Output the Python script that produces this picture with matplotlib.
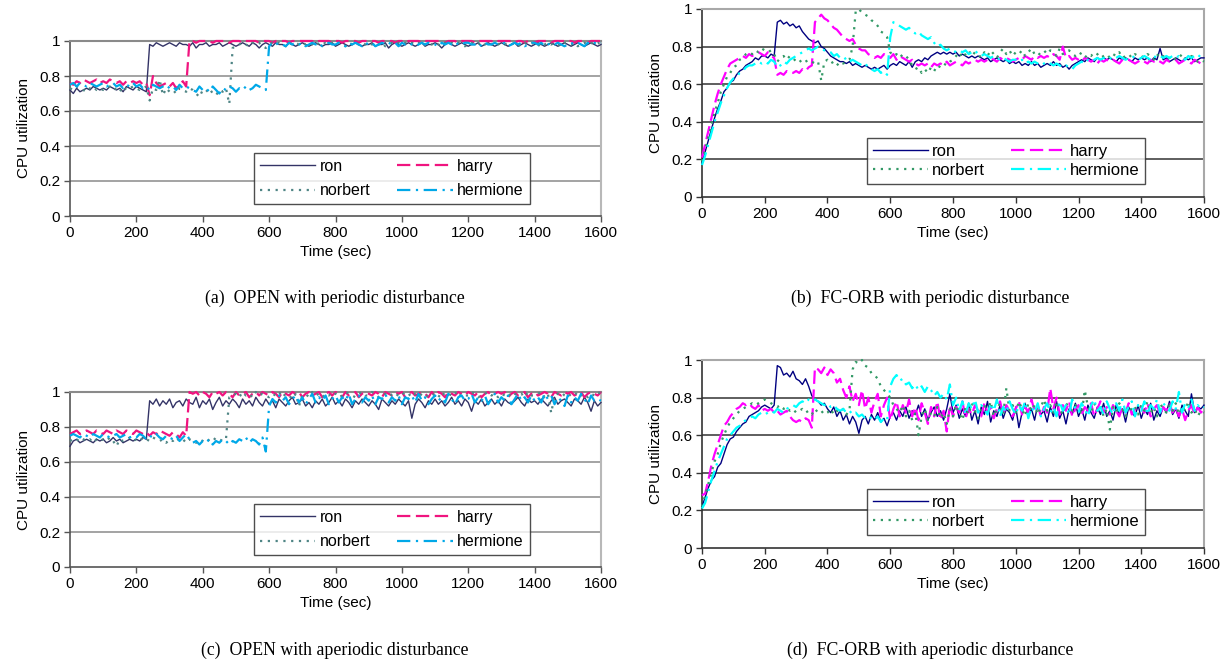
import matplotlib
matplotlib.use("Agg")
import matplotlib.pyplot as plt

plt.rcParams['font.family'] = ['Liberation Sans', 'DejaVu Sans']

# ---------------- data (CPU utilization in %, sampled every 10 s) ----------------
time_s = list(range(0, 1610, 10))
series_names = ["ron", "harry", "norbert", "hermione"]

# (a) OPEN with periodic disturbance
ron_a = [72,70,73,71,72,73,72,74,73,72, 73,72,74,73,72,73,71,74,73,72,
         74,73,72,71,98,97,99,98,97,98, 99,98,97,99,98,98,97,99,96,98,
         98,99,97,98,98,99,97,98,99,98, 97,98,99,98,97,99,98,96,98,99,
         98,97,99,98,98,97,99,98,97,98, 99,98,97,98,99,98,97,98,98,99,
         97,98,99,98,97,98,99,98,97,98, 98,99,97,98,98,99,96,98,99,98,
         97,98,99,98,97,98,99,97,98,98, 99,98,96,98,99,98,97,98,99,98,
         97,98,98,99,97,98,99,98,97,98, 99,98,97,98,99,97,98,99,98,97,
         98,99,98,97,98,99,98,97,98,99, 98,97,98,99,98,97,98,99,98,97, 98]
harry_a = [76,75,77,76,78,77,76,77,78,76, 77,76,78,77,76,77,75,77,76,77,
           76,77,75,76,69,80,76,74,75,76, 74,76,73,75,77,74,100,100,99,100,
           100,100,100,99,100,100,100,100,99,100, 100,100,99,100,100,100,100,99,100,100,
           100,99,100,100,100,100,99,100,100,100, 100,100,100,100,99,100,100,100,100,99,
           100,100,99,100,100,100,100,99,100,100, 100,100,100,99,100,100,100,100,99,100,
           100,99,100,100,100,100,99,100,100,100, 100,100,100,99,100,100,100,99,100,100,
           100,100,99,100,100,100,100,100,99,100, 100,100,100,100,99,100,100,99,100,100,
           99,100,100,100,100,99,100,100,100,100, 100,100,99,100,100,100,99,100,100,100, 100]
norbert_a = [73,72,74,73,72,71,73,74,72,73, 72,73,74,72,73,71,74,72,73,74,
             73,72,73,74,66,73,72,78,69,73, 71,72,70,73,72,71,73,72,70,68,
             72,71,73,70,69,72,71,73,64,96, 97,98,99,98,97,99,98,99,97,96,
             98,99,98,99,98,97,99,98,99,98, 99,98,99,98,97,99,98,99,98,99,
             98,99,98,97,99,98,99,98,99,98, 99,98,99,98,99,97,98,99,98,99,
             98,99,98,99,98,99,97,98,99,98, 99,98,97,99,98,99,98,99,98,97,
             98,99,98,99,97,98,99,98,99,98, 99,98,99,98,99,98,97,99,98,99,
             98,97,99,98,99,98,99,98,97,99, 99,98,99,97,98,99,98,99,98,99, 98]
hermione_a = [75,76,74,76,75,74,76,75,74,75, 76,74,75,76,74,75,73,75,74,76,
              74,75,73,74,72,75,74,73,74,75, 73,74,72,75,73,74,73,72,71,74,
              72,73,71,74,72,70,73,72,74,73, 71,73,72,74,72,73,75,74,73,72,
              97,99,98,99,98,97,99,98,99,98, 99,97,98,99,98,99,97,98,99,98,
              98,99,98,97,99,98,99,98,97,99, 98,99,97,98,99,98,99,98,99,97,
              99,98,99,98,97,98,99,98,99,98, 98,97,99,98,99,98,97,99,98,99,
              99,98,98,99,97,99,98,98,99,98, 98,99,97,98,99,98,99,97,98,99,
              99,98,99,97,98,99,98,99,98,97, 98,99,98,99,98,97,99,98,99,98, 99]

# (b) FC-ORB with periodic disturbance
ron_b = [18,24,30,36,42,47,51,56,58,61, 62,65,67,68,70,71,72,74,73,75,
         75,74,76,75,93,94,92,93,91,92, 90,91,88,86,84,83,82,83,80,79,
         77,75,74,73,72,72,71,72,70,71, 70,69,70,69,68,69,68,69,70,68,
         70,71,70,72,71,70,72,69,72,73, 72,74,73,75,76,77,76,77,76,77,
         76,77,75,76,75,74,75,74,75,74, 73,74,72,73,74,73,72,73,71,72,
         71,72,70,71,70,72,70,71,69,70, 71,70,72,70,71,69,70,68,70,71,
         72,73,72,74,73,72,74,73,74,73, 74,73,72,74,73,74,73,72,74,73,
         74,73,74,72,74,73,79,73,74,72, 73,74,73,72,74,73,74,72,73,74, 74]
harry_b = [21,28,35,42,49,55,60,64,68,71, 72,73,74,75,74,76,75,76,77,76,
           75,77,75,74,65,66,65,67,66,66, 67,66,68,67,69,70,93,95,97,95,
           94,92,90,89,87,85,84,83,84,81, 79,78,78,76,75,74,75,74,76,75,
           74,76,73,75,74,73,72,73,71,70, 71,70,71,69,71,70,71,70,72,70,
           71,72,71,70,72,71,72,73,72,73, 72,73,74,73,72,74,73,74,73,72,
           73,74,73,75,74,73,75,74,75,74, 75,74,76,75,73,80,74,75,73,74,
           73,72,74,73,72,73,71,73,72,73, 72,73,72,71,73,72,73,72,71,72,
           73,72,71,73,72,73,72,71,73,72, 72,73,71,72,73,72,71,73,72,71, 73]
norbert_b = [19,25,32,38,45,50,56,60,64,66, 69,70,73,74,76,77,76,78,77,79,
             78,77,78,76,72,74,75,73,75,74, 72,73,71,72,73,72,71,72,62,72,
             73,71,72,70,72,71,72,73,80,99, 100,98,97,96,94,93,91,88,87,85,
             77,75,76,74,76,75,73,70,68,69, 66,68,66,69,67,70,69,71,70,72,
             73,75,77,74,76,78,75,77,76,74, 77,75,78,76,74,77,79,76,78,75,
             77,76,78,75,77,79,76,75,77,78, 76,78,77,75,79,76,77,78,76,75,
             77,76,74,76,75,77,76,74,75,76, 74,76,75,77,74,75,76,74,76,75,
             75,74,76,75,73,76,74,75,73,74, 75,73,74,76,74,73,75,74,72,73, 72]
hermione_b = [17,22,28,34,40,45,50,54,58,61, 63,64,66,67,69,70,70,71,72,71,
              72,71,73,72,69,70,72,71,73,74, 75,76,77,78,79,78,79,80,79,78,
              78,77,75,76,74,73,74,72,73,72, 71,70,71,69,68,67,68,66,67,65,
              85,93,92,91,90,89,90,88,87,88, 86,85,84,85,82,80,81,79,78,79,
              78,77,78,77,78,76,77,78,76,75, 76,75,74,75,74,73,74,73,72,73,
              73,72,73,71,72,71,72,71,70,71, 72,71,70,71,70,69,70,69,68,70,
              71,72,71,73,72,73,74,73,74,73, 74,73,74,75,74,73,74,75,74,73,
              74,75,74,73,75,74,75,74,75,74, 75,74,75,74,73,75,74,75,74,76, 76]

# (c) OPEN with aperiodic disturbance
ron_c = [69,72,73,71,72,73,72,71,73,72, 73,71,72,74,72,73,71,72,73,72,
         73,72,74,73,95,93,96,92,95,93, 96,91,94,95,92,96,94,93,97,91,
         95,93,96,90,94,97,92,95,93,96, 94,91,96,93,95,92,97,94,92,96,
         93,95,91,96,94,92,95,97,93,94, 96,92,94,91,95,93,96,92,94,97,
         93,95,92,96,94,91,95,93,96,94, 92,95,93,90,96,94,92,95,93,96,
         94,92,95,85,93,96,94,91,95,93, 96,93,95,92,94,97,93,95,92,96,
         94,89,95,93,96,92,94,96,93,95, 92,96,94,93,95,97,94,92,96,94,
         95,93,96,94,92,95,97,93,95,96, 94,92,96,95,93,97,94,89,95,92, 94]
harry_c = [76,77,78,76,77,78,77,76,78,77, 76,78,77,76,78,77,76,78,77,76,
           78,77,76,77,75,77,76,78,77,76, 75,77,76,74,77,75,100,99,100,98,
           100,99,97,100,99,100,98,100,99,97, 100,98,99,100,97,99,100,98,100,99,
           98,100,99,97,100,99,98,100,99,100, 97,99,100,98,99,100,97,99,100,98,
           100,99,97,100,98,99,100,97,99,100, 99,98,100,99,97,100,99,98,100,99,
           100,97,99,100,98,99,100,99,97,100, 98,100,99,97,100,99,98,100,99,98,
           100,99,98,100,97,99,100,98,99,100, 99,100,97,99,100,98,99,100,97,99,
           100,98,99,100,99,97,100,99,98,100, 99,100,98,99,100,97,99,100,99,98, 100]
norbert_c = [72,73,72,74,73,72,73,71,73,72, 73,72,74,72,69,73,72,73,74,72,
             73,72,74,73,72,74,73,72,73,71, 73,72,74,72,73,71,73,72,71,73,
             72,71,73,72,74,73,72,73,97,98, 99,97,100,98,99,97,100,98,99,98,
             97,99,98,100,97,99,98,96,99,92, 98,99,97,100,98,99,97,99,98,100,
             99,97,98,100,99,98,97,99,100,98, 98,100,99,97,98,99,100,98,97,99,
             100,98,99,97,99,100,98,99,97,98, 99,97,100,98,99,98,100,97,99,98,
             98,100,99,97,98,99,100,98,99,97, 99,98,97,100,99,98,99,97,100,98,
             98,99,100,97,99,88,98,99,100,98, 97,99,98,100,98,99,97,99,98,100, 99]
hermione_c = [75,76,75,74,76,75,74,76,75,74, 76,75,74,75,76,74,75,76,74,75,
              74,76,75,73,75,74,76,74,73,75, 74,73,75,72,74,76,73,71,72,70,
              72,71,73,70,72,71,73,72,70,72, 71,73,72,74,71,73,72,70,74,66,
              92,96,94,98,95,97,93,96,98,94, 97,93,96,99,94,97,95,98,93,96,
              98,94,97,95,99,93,96,98,94,97, 95,98,93,97,96,99,94,97,95,98,
              93,97,96,98,94,99,95,97,93,96, 98,95,97,94,99,96,93,97,98,95,
              96,99,94,97,95,98,93,96,99,94, 97,95,98,93,96,99,95,97,94,98,
              95,97,94,99,96,98,93,97,95,92, 98,94,97,95,99,96,93,98,95,96, 95]

# (d) FC-ORB with aperiodic disturbance
ron_d = [22,27,32,36,38,43,45,50,55,58, 59,62,64,66,67,70,71,72,73,75,
         76,75,74,76,97,96,92,93,91,94, 90,89,87,90,86,81,79,78,76,77,
         74,72,75,70,73,68,71,66,70,67, 61,68,70,66,71,68,72,67,69,65,
         70,72,68,73,70,75,69,73,71,76, 70,74,68,72,75,70,73,68,74,82,
         72,76,69,74,70,77,68,73,66,75, 71,78,67,73,70,76,69,74,72,68,
         75,64,72,77,70,74,68,76,71,73, 67,75,70,78,69,73,66,74,71,77,
         70,74,68,76,72,69,75,71,77,70, 73,68,76,71,74,67,75,72,70,76,
         69,74,71,77,68,73,70,75,72,78, 71,74,69,76,73,70,82,72,75,74, 76]
harry_d = [28,29,36,44,50,55,60,65,67,70, 72,74,75,77,76,77,75,74,76,73,
           74,73,74,72,73,71,72,73,70,68, 67,68,67,69,68,64,96,95,93,96,
           92,95,93,88,90,84,80,86,78,82, 76,84,74,80,72,78,82,70,76,80,
           68,74,78,70,76,72,79,70,75,68, 77,72,66,75,70,78,68,73,62,76,
           70,75,72,78,69,74,71,76,73,70, 77,72,75,69,74,78,71,76,73,70,
           74,78,71,75,72,79,73,76,70,75, 72,85,74,80,71,76,73,78,70,74,
           76,71,75,73,77,70,74,78,72,75, 71,76,73,70,75,72,77,71,74,73,
           75,72,77,70,74,76,71,75,73,77, 72,75,70,74,68,73,76,71,75,72, 74]
norbert_d = [22,28,34,40,46,50,56,60,64,67, 69,71,73,74,75,76,77,76,77,78,
             79,78,77,76,75,76,74,75,73,74, 72,73,74,72,73,71,74,72,73,71,
             72,74,71,73,72,74,71,73,95,99, 98,100,97,96,93,92,90,86,84,82,
             80,76,74,72,76,70,73,68,72,60, 70,74,68,72,70,75,69,72,66,74,
             70,76,72,68,75,71,77,73,69,74, 76,72,78,70,74,77,71,85,73,76,
             72,78,74,70,77,73,76,71,75,79, 73,76,72,78,74,71,77,75,73,76,
             74,71,84,75,72,77,73,76,70,74, 63,75,72,77,74,70,76,73,75,71,
             76,73,78,72,75,70,77,74,72,76, 73,77,71,75,73,78,72,74,70,73, 72]
hermione_d = [21,24,30,36,41,46,50,54,58,60, 62,64,65,67,68,69,70,69,71,72,
              71,72,73,72,74,73,72,74,75,76, 75,77,78,77,79,78,79,78,77,76,
              77,75,76,74,73,74,72,73,71,72, 70,71,69,70,69,68,70,67,69,68,
              86,90,92,89,90,87,88,85,87,84, 86,83,86,84,81,83,80,82,79,87,
              76,80,73,78,71,77,74,79,72,76, 74,71,77,73,79,70,75,72,78,74,
              71,76,73,78,69,75,72,77,70,74, 77,72,75,70,78,73,76,71,79,74,
              72,77,74,70,76,79,73,75,71,78, 74,71,77,73,79,72,75,78,70,76,
              73,78,71,76,74,79,72,77,75,73, 78,74,83,72,77,75,79,73,76,74, 75]

y_ticks = [0, 0.2, 0.4, 0.6, 0.8, 1.0]
y_tick_labels = ["0", "0.2", "0.4", "0.6", "0.8", "1"]
x_ticks = [0, 200, 400, 600, 800, 1000, 1200, 1400, 1600]
captions = ["(a)  OPEN with periodic disturbance",
            "(b)  FC-ORB with periodic disturbance",
            "(c)  OPEN with aperiodic disturbance",
            "(d)  FC-ORB with aperiodic disturbance"]

# ---------------- styling ----------------
W, H = 1231, 666
fig = plt.figure(figsize=(W / 100, H / 100), dpi=100)

def px_rect(x0, y_top, x1, y_bot):
    return [x0 / W, 1 - y_bot / H, (x1 - x0) / W, (y_bot - y_top) / H]

styles_open = dict(colors=["#333366", "#F0147F", "#4F8585", "#00A8E8"],
                   grid="#8a8a8a", top="#8a8a8a", right="#b8b8b8", axis="#555555")
styles_fc = dict(colors=["#000080", "#FF00FF", "#339966", "#00FFFF"],
                 grid="#333333", top="#a8a8a8", right="#a8a8a8", axis="#333333")

linestyles = ["-", (0, (6, 2.5)), (0, (1, 2.5)), (0, (6, 2.5, 1, 2.5))]
linewidths = [1.0, 1.6, 1.6, 1.6]
legend_order = [0, 2, 1, 3]   # two columns: ron/harry on top row, norbert/hermione below

def panel(rect, data, st, leg_anchor, caption, cap_xy, leg_fs, handlelen, colsp, lspace):
    ax = fig.add_axes(rect)
    handles = []
    for name, vals, c, ls, lw in zip(series_names, data, st["colors"], linestyles, linewidths):
        h, = ax.plot(time_s, [v / 100 for v in vals], color=c, ls=ls, lw=lw, label=name,
                     clip_on=False, zorder=3)
        handles.append(h)
    ax.set_xlim(0, 1600)
    ax.set_ylim(0, 1)
    ax.set_xticks(x_ticks)
    ax.set_xticklabels([str(t) for t in x_ticks])
    ax.set_yticks(y_ticks)
    ax.set_yticklabels(y_tick_labels)
    for yv in y_ticks[1:-1]:
        ax.axhline(yv, color=st["grid"], lw=1.1, zorder=1)
    ax.spines["top"].set_color(st["top"])
    ax.spines["top"].set_linewidth(1.5)
    ax.spines["right"].set_color(st["right"])
    ax.spines["right"].set_linewidth(1.5)
    ax.spines["left"].set_color(st["axis"])
    ax.spines["bottom"].set_color(st["axis"])
    ax.spines["left"].set_linewidth(1.2)
    ax.spines["bottom"].set_linewidth(1.2)
    ax.tick_params(direction="out", length=4, width=1, color=st["axis"], labelsize=11,
                   pad=3)
    ax.set_ylabel("CPU utilization", fontsize=11, labelpad=6)
    ax.set_xlabel("Time (sec)", fontsize=11, labelpad=4)
    leg = ax.legend([handles[i] for i in legend_order],
                    [series_names[i] for i in legend_order],
                    ncol=2, loc="lower left", bbox_to_anchor=leg_anchor,
                    fontsize=leg_fs, frameon=True, fancybox=False, handlelength=handlelen,
                    handletextpad=0.25, columnspacing=colsp, labelspacing=lspace,
                    borderpad=0.35, borderaxespad=0)
    leg.get_frame().set_edgecolor("#222222")
    leg.get_frame().set_linewidth(1.0)
    leg.set_zorder(5)
    fig.text(cap_xy[0] / W, 1 - cap_xy[1] / H, caption, ha="center", va="center",
             fontsize=12.8, family=["Liberation Serif", "DejaVu Serif"])
    return ax

panel(px_rect(70, 41, 601, 216), [ron_a, harry_a, norbert_a, hermione_a], styles_open,
      ((254 - 70) / 531, (216 - 204) / 175), captions[0], (335, 298), 11.5, 3.5, 1.7, 0.6)
panel(px_rect(702, 9, 1204, 197), [ron_b, harry_b, norbert_b, hermione_b], styles_fc,
      ((867 - 702) / 502, (197 - 184) / 188), captions[1], (930, 298), 12, 3.3, 1.55, 0.25)
panel(px_rect(70, 392, 601, 567), [ron_c, harry_c, norbert_c, hermione_c], styles_open,
      ((254 - 70) / 531, (567 - 555) / 175), captions[2], (335, 650), 11.5, 3.5, 1.7, 0.6)
panel(px_rect(702, 360, 1204, 548), [ron_d, harry_d, norbert_d, hermione_d], styles_fc,
      ((867 - 702) / 502, (548 - 535) / 188), captions[3], (930, 650), 12, 3.3, 1.55, 0.25)

fig.savefig("out.png", dpi=100)
